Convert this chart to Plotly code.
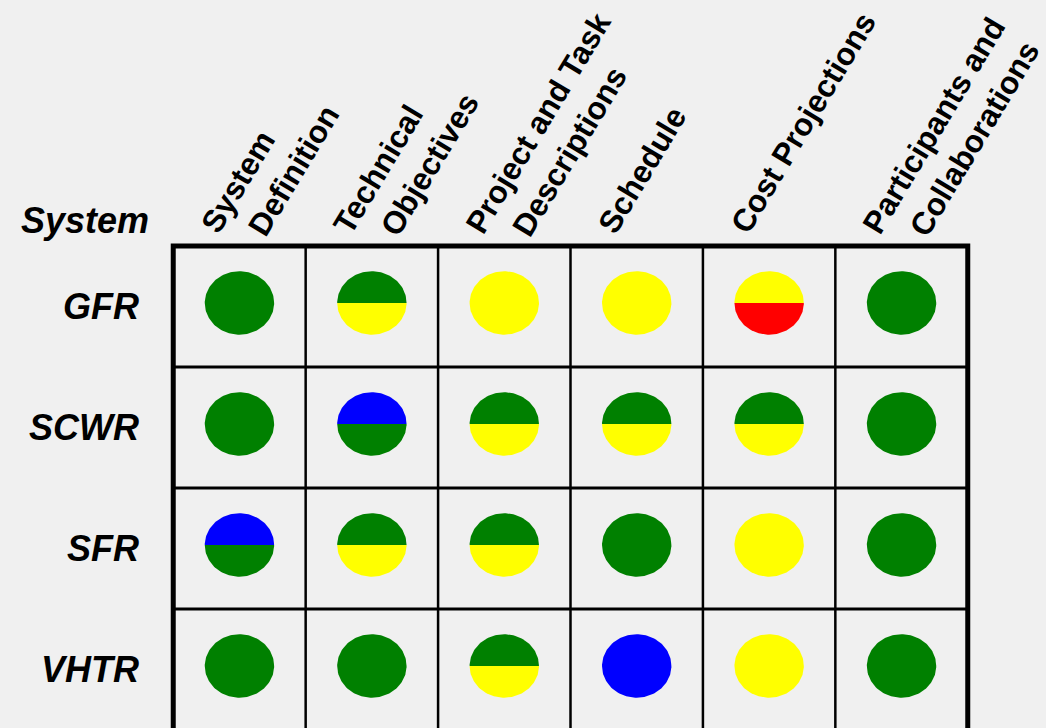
import math
import plotly.graph_objects as go

# ---- data -------------------------------------------------------------
systems = ["GFR", "SCWR", "SFR", "VHTR"]
criteria = [
    ["System", "Definition"],
    ["Technical", "Objectives"],
    ["Project and Task", "Descriptions"],
    ["Schedule"],
    ["Cost Projections"],
    ["Participants and", "Collaborations"],
]

# status of each criterion per system: (upper half, lower half)
gfr_status = [("G", "G"), ("G", "Y"), ("Y", "Y"), ("Y", "Y"), ("Y", "R"), ("G", "G")]
scwr_status = [("G", "G"), ("B", "G"), ("G", "Y"), ("G", "Y"), ("G", "Y"), ("G", "G")]
sfr_status = [("B", "G"), ("G", "Y"), ("G", "Y"), ("G", "G"), ("Y", "Y"), ("G", "G")]
vhtr_status = [("G", "G"), ("G", "G"), ("G", "Y"), ("B", "B"), ("Y", "Y"), ("G", "G")]
status_rows = [gfr_status, scwr_status, sfr_status, vhtr_status]

status_colors = {"G": "#008000", "Y": "#FFFF00", "R": "#FF0000", "B": "#0000FF"}

# ---- geometry / style -------------------------------------------------
W, H = 1046, 728
M_L, M_R, M_T, M_B = 160, 65, 234, 0
PLOT_W, PLOT_H = W - M_L - M_R, H - M_T - M_B
X_PAD, Y_PAD = 0.1, 0.1
COL_PX = PLOT_W / (6 + 2 * X_PAD)
ROW_PX = 121.0
GRID_LEFT_PX = M_L + X_PAD * COL_PX
GRID_TOP_PX = M_T + Y_PAD * ROW_PX
RX = RY = 0.262          # disc radius in cell units
DISC_DY = -0.03          # discs sit slightly above the cell middle
BG = "#f0f0f0"
FONT = "Liberation Sans, Arial, sans-serif"

n_rows, n_cols = len(systems), len(criteria)


def paper_x(px):
    return (px - M_L) / PLOT_W


def paper_y(py):
    return (H - M_B - py) / PLOT_H


def half_disc(cx, cy, upper, n=72):
    a0, a1 = (0.0, math.pi) if upper else (math.pi, 2 * math.pi)
    xs, ys = [], []
    for i in range(n + 1):
        t = a0 + (a1 - a0) * i / n
        xs.append(cx + RX * math.cos(t))
        ys.append(cy - RY * math.sin(t))
    return xs, ys


fig = go.Figure()

for r, row in enumerate(status_rows):
    for c, (top, bottom) in enumerate(row):
        cx, cy = c + 0.5, r + 0.5 + DISC_DY
        for upper, key in ((True, top), (False, bottom)):
            xs, ys = half_disc(cx, cy, upper)
            fig.add_trace(go.Scatter(
                x=xs, y=ys, mode="lines", fill="toself",
                fillcolor=status_colors[key], line=dict(width=0),
                hoverinfo="skip", showlegend=False,
            ))

# ---- table lines ------------------------------------------------------
shapes = []
for c in range(1, n_cols):
    shapes.append(dict(type="line", xref="x", yref="y", x0=c, x1=c, y0=0, y1=n_rows + 0.5,
                       line=dict(color="black", width=2.5)))
for r in range(1, n_rows):
    shapes.append(dict(type="line", xref="x", yref="y", x0=0, x1=n_cols, y0=r, y1=r,
                       line=dict(color="black", width=3)))
outer = f"M0,{n_rows + 0.5} L0,0 L{n_cols},0 L{n_cols},{n_rows + 0.5}"
shapes.append(dict(type="path", xref="x", yref="y", path=outer,
                   line=dict(color="black", width=5)))

# ---- labels -----------------------------------------------------------
annotations = []
label_font = dict(family=FONT, size=36, color="black", weight="bold", style="italic")

for r, name in enumerate(systems):
    annotations.append(dict(
        x=paper_x(141), y=paper_y(GRID_TOP_PX + (r + 0.5) * ROW_PX),
        xref="paper", yref="paper", text=name, showarrow=False,
        xanchor="right", yanchor="middle", font=label_font,
    ))

annotations.append(dict(
    x=paper_x(151), y=paper_y(220), xref="paper", yref="paper", text="System",
    showarrow=False, xanchor="right", yanchor="middle", font=label_font,
))

head_size = 31.5
angle = 59
s, co = math.sin(math.radians(angle)), math.cos(math.radians(angle))
box_h = head_size * 1.15
desc = head_size * 0.212
for c, lines in enumerate(criteria):
    for k, line in enumerate(lines):
        # glyph baseline start of each header line, in pixels from the cell corner
        sx = 44 + 47 * k
        sy = -9 + 3 * k
        ax = sx - (box_h - desc) * s
        ay = sy + desc * co
        annotations.append(dict(
            x=paper_x(GRID_LEFT_PX + c * COL_PX + ax), y=paper_y(GRID_TOP_PX + ay),
            xref="paper", yref="paper", text=line, borderpad=0,
            showarrow=False, textangle=-angle, xanchor="left", yanchor="bottom",
            font=dict(family=FONT, size=head_size, color="black", weight="bold"),
        ))

fig.update_layout(
    width=W, height=H,
    margin=dict(l=M_L, r=M_R, t=M_T, b=M_B, pad=0),
    paper_bgcolor=BG, plot_bgcolor=BG,
    xaxis=dict(range=[-X_PAD, n_cols + X_PAD], visible=False, fixedrange=True),
    yaxis=dict(range=[PLOT_H / ROW_PX - Y_PAD, -Y_PAD], visible=False, fixedrange=True),
    shapes=shapes, annotations=annotations, showlegend=False,
)

fig.write_html("out.html")
